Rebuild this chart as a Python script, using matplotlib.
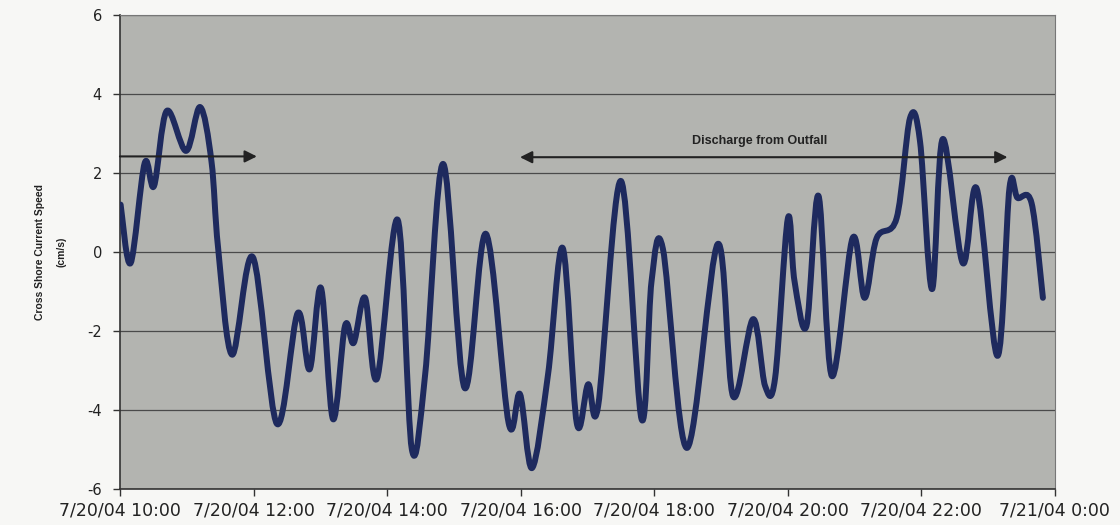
import matplotlib
matplotlib.use("Agg")
import matplotlib.pyplot as plt
from matplotlib.path import Path
from matplotlib.patches import PathPatch
import numpy as np

# ==================== data ====================
# hours since midnight 7/20/04 (24 = 7/21/04 0:00)
hours = [10.01, 10.16, 10.37, 10.51, 10.70, 10.99, 11.20, 11.37, 11.47, 11.68,
         11.99, 12.35, 12.66, 12.84, 13.01, 13.19, 13.37, 13.50, 13.67, 13.85,
         14.16, 14.37, 14.57, 14.84, 15.16, 15.48, 15.82, 15.99, 16.17, 16.41,
         16.63, 16.84, 17.01, 17.16, 17.50, 17.81, 17.96, 18.13, 18.49, 18.95,
         19.18, 19.48, 19.66, 19.81, 20.00, 20.10, 20.28, 20.46, 20.66, 20.97,
         21.15, 21.33, 21.63, 21.83, 21.98, 22.16, 22.32, 22.62, 22.83, 23.14,
         23.32, 23.44, 23.65, 23.82]
speed = [1.20, -0.28, 2.25, 1.67, 3.57, 2.56, 3.67, 2.30, 0.10, -2.60,
         -0.13, -4.35, -1.55, -2.97, -0.91, -4.23, -1.87, -2.30, -1.16, -3.20,
         0.81, -4.99, -3.10, 2.23, -3.44, 0.46, -4.33, -3.60, -5.47, -3.10,
         0.10, -4.33, -3.35, -3.90, 1.80, -4.23, -0.74, 0.08, -4.96, 0.20,
         -3.65, -1.70, -3.39, -3.19, 0.84, -0.73, -1.87, 1.42, -3.14, 0.35,
         -1.16, 0.35, 0.86, 3.39, 2.80, -0.94, 2.86, -0.28, 1.60, -2.63,
         1.63, 1.37, 1.24, -1.16]

tick_hours = [10, 12, 14, 16, 18, 20, 22, 24]
tick_labels = ['7/20/04 10:00', '7/20/04 12:00', '7/20/04 14:00', '7/20/04 16:00',
               '7/20/04 18:00', '7/20/04 20:00', '7/20/04 22:00', '7/21/04 0:00']
y_ticks = [-6, -4, -2, 0, 2, 4, 6]

# annotation arrows (start hour, end hour, level)
arrow1 = (10.0, 12.05, 2.42)
arrow2 = (15.99, 23.29, 2.40)
discharge_text = 'Discharge from Outfall'


def smoothed_path(x, y):
    # Excel style "smoothed line": cubic bezier segments through every point
    pts = np.column_stack([x, y])
    ext = np.vstack([pts[0], pts, pts[-1]])
    verts = [pts[0]]
    codes = [Path.MOVETO]
    for i in range(len(pts) - 1):
        p0, p1, p2, p3 = ext[i], ext[i + 1], ext[i + 2], ext[i + 3]
        verts += [p1 + (p2 - p0) / 6.0, p2 - (p3 - p1) / 6.0, p2]
        codes += [Path.CURVE4] * 3
    return Path(verts, codes)


# ==================== figure ====================
fig = plt.figure(figsize=(11.2, 5.25), dpi=100, facecolor='#f7f7f5')
ax = fig.add_axes([0.1071, 0.0686, 0.8348, 0.9028])
ax.set_facecolor('#b3b4b0')

line = PathPatch(smoothed_path(hours, speed), facecolor='none', edgecolor='#1e2a5e',
                 linewidth=4.3, capstyle='round', joinstyle='round', zorder=3)
ax.add_patch(line)

ax.set_xlim(10, 24)
ax.set_ylim(-6, 6)
ax.set_yticks(y_ticks)
ax.set_yticklabels([str(v) for v in y_ticks], fontsize=10.5, color='#222222',
                   family='DejaVu Sans')
ax.set_xticks(tick_hours)
ax.set_xticklabels(tick_labels, fontsize=12.5, color='#222222', family='DejaVu Sans')
ax.tick_params(axis='both', direction='out', length=5, width=1, color='#333333')
ax.tick_params(axis='y', pad=8)
ax.tick_params(axis='x', pad=4)

ax.grid(axis='y', color='#4a4a4a', linewidth=0.9)
ax.set_axisbelow(True)
for side in ['left', 'bottom']:
    ax.spines[side].set_color('#333333')
    ax.spines[side].set_linewidth(1.2)
for side in ['top', 'right']:
    ax.spines[side].set_color('#777777')
    ax.spines[side].set_linewidth(0.8)

# arrows
ax.annotate('', xy=(arrow1[1], arrow1[2]), xytext=(arrow1[0], arrow1[2]),
            arrowprops=dict(arrowstyle='-|>', color='#222222', lw=1.5,
                            mutation_scale=18, shrinkA=0, shrinkB=0), zorder=4)
ax.annotate('', xy=(arrow2[1], arrow2[2]), xytext=(arrow2[0], arrow2[2]),
            arrowprops=dict(arrowstyle='<|-|>', color='#222222', lw=1.5,
                            mutation_scale=18, shrinkA=0, shrinkB=0), zorder=4)
ax.text(19.58, 2.8, discharge_text, fontsize=9, color='#222222',
        family='Liberation Sans', fontweight='bold', ha='center', va='center', zorder=4)

# y label, two lines
fig.text(0.036, 0.52, 'Cross Shore Current Speed', rotation=90, fontsize=7.5,
         family='Liberation Sans', fontweight='bold', color='#222222',
         ha='center', va='center')
fig.text(0.055, 0.52, '(cm/s)', rotation=90, fontsize=7.5,
         family='Liberation Sans', fontweight='bold', color='#222222',
         ha='center', va='center')

fig.savefig('out.png', dpi=100, facecolor=fig.get_facecolor())
